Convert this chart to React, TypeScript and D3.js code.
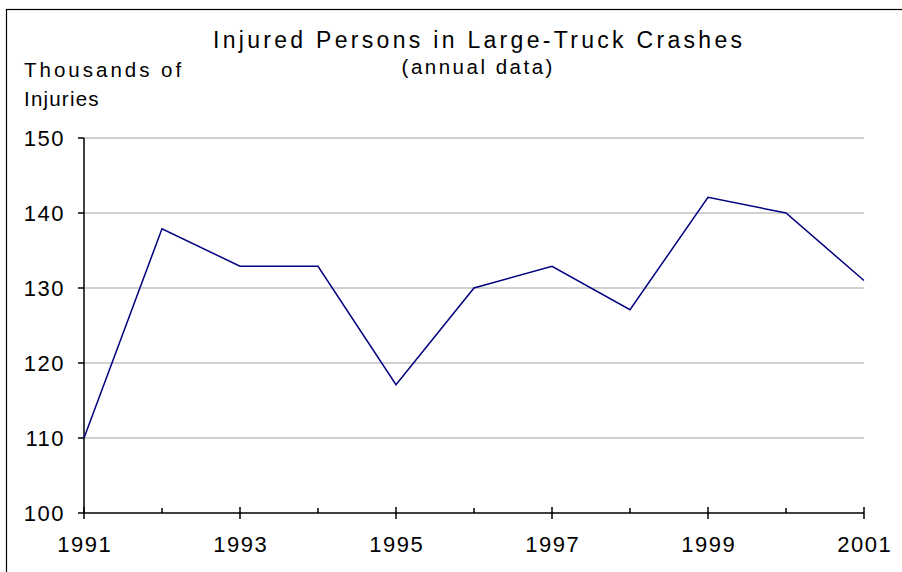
import React from "react";
import * as d3 from "d3";

const years = [1991, 1992, 1993, 1994, 1995, 1996, 1997, 1998, 1999, 2000, 2001];
const injuries = [110, 137.9, 132.9, 132.9, 117.1, 130, 132.9, 127.1, 142.1, 140, 131];
const yTicks = [100, 110, 120, 130, 140, 150];
const xMajorTicks = [1991, 1993, 1995, 1997, 1999, 2001];
const xMinorTicks = [1992, 1994, 1996, 1998, 2000];

const W = 902;
const H = 572;
const FONT = "'Liberation Sans', Arial, sans-serif";

export default function App() {
  const x = d3.scaleLinear().domain([1991, 2001]).range([84, 864]);
  const y = d3.scaleLinear().domain([100, 150]).range([513, 138]);
  const line = d3
    .line<number>()
    .x((_, i) => x(years[i]))
    .y((d) => y(d));

  const titleLs = 3.3;
  const subLs = 2.5;
  const tickLs = 1.5;

  return (
    <svg
      width={W}
      height={H}
      style={{ position: "absolute", left: 0, top: 0, background: "#fff" }}
    >
      <rect x={6.5} y={9.5} width={W + 20} height={H + 20} fill="none" stroke="#000" strokeWidth={1.2} />
      <text x={477.5 + titleLs / 2} y={48} textAnchor="middle" fontFamily={FONT} fontSize={23} letterSpacing={titleLs} fill="#000">
        Injured Persons in Large-Truck Crashes
      </text>
      <text x={477 + subLs / 2} y={74} textAnchor="middle" fontFamily={FONT} fontSize={20.5} letterSpacing={subLs} fill="#000">
        (annual data)
      </text>
      <text x={24} y={77} fontFamily={FONT} fontSize={20.5} letterSpacing={3.0} fill="#000">
        Thousands of
      </text>
      <text x={24} y={106} fontFamily={FONT} fontSize={20.5} letterSpacing={1.2} fill="#000">
        Injuries
      </text>
      {yTicks.filter((t) => t !== 100).map((t) => (
        <line key={"g" + t} x1={84} x2={864} y1={y(t)} y2={y(t)} stroke="#c0c0c0" strokeWidth={1.5} />
      ))}
      {yTicks.map((t) => (
        <g key={"y" + t}>
          <line x1={78} x2={84} y1={y(t)} y2={y(t)} stroke="#000" strokeWidth={1.5} />
          <text x={63.5 + tickLs} y={y(t) + 7.5} textAnchor="end" fontFamily={FONT} fontSize={22} letterSpacing={tickLs} fill="#000">
            {t}
          </text>
        </g>
      ))}
      <line x1={84} x2={84} y1={y(150)} y2={y(100)} stroke="#000" strokeWidth={1.5} />
      <line x1={84} x2={864} y1={y(100)} y2={y(100)} stroke="#000" strokeWidth={1.5} />
      {xMajorTicks.map((t) => (
        <g key={"x" + t}>
          <line x1={x(t)} x2={x(t)} y1={507} y2={519} stroke="#000" strokeWidth={1.5} />
          <text x={x(t) + tickLs / 2} y={552} textAnchor="middle" fontFamily={FONT} fontSize={22} letterSpacing={tickLs} fill="#000">
            {t}
          </text>
        </g>
      ))}
      {xMinorTicks.map((t) => (
        <line key={"m" + t} x1={x(t)} x2={x(t)} y1={508} y2={513} stroke="#000" strokeWidth={1.5} />
      ))}
      <path d={line(injuries) || ""} fill="none" stroke="#000080" strokeWidth={1.5} />
    </svg>
  );
}
